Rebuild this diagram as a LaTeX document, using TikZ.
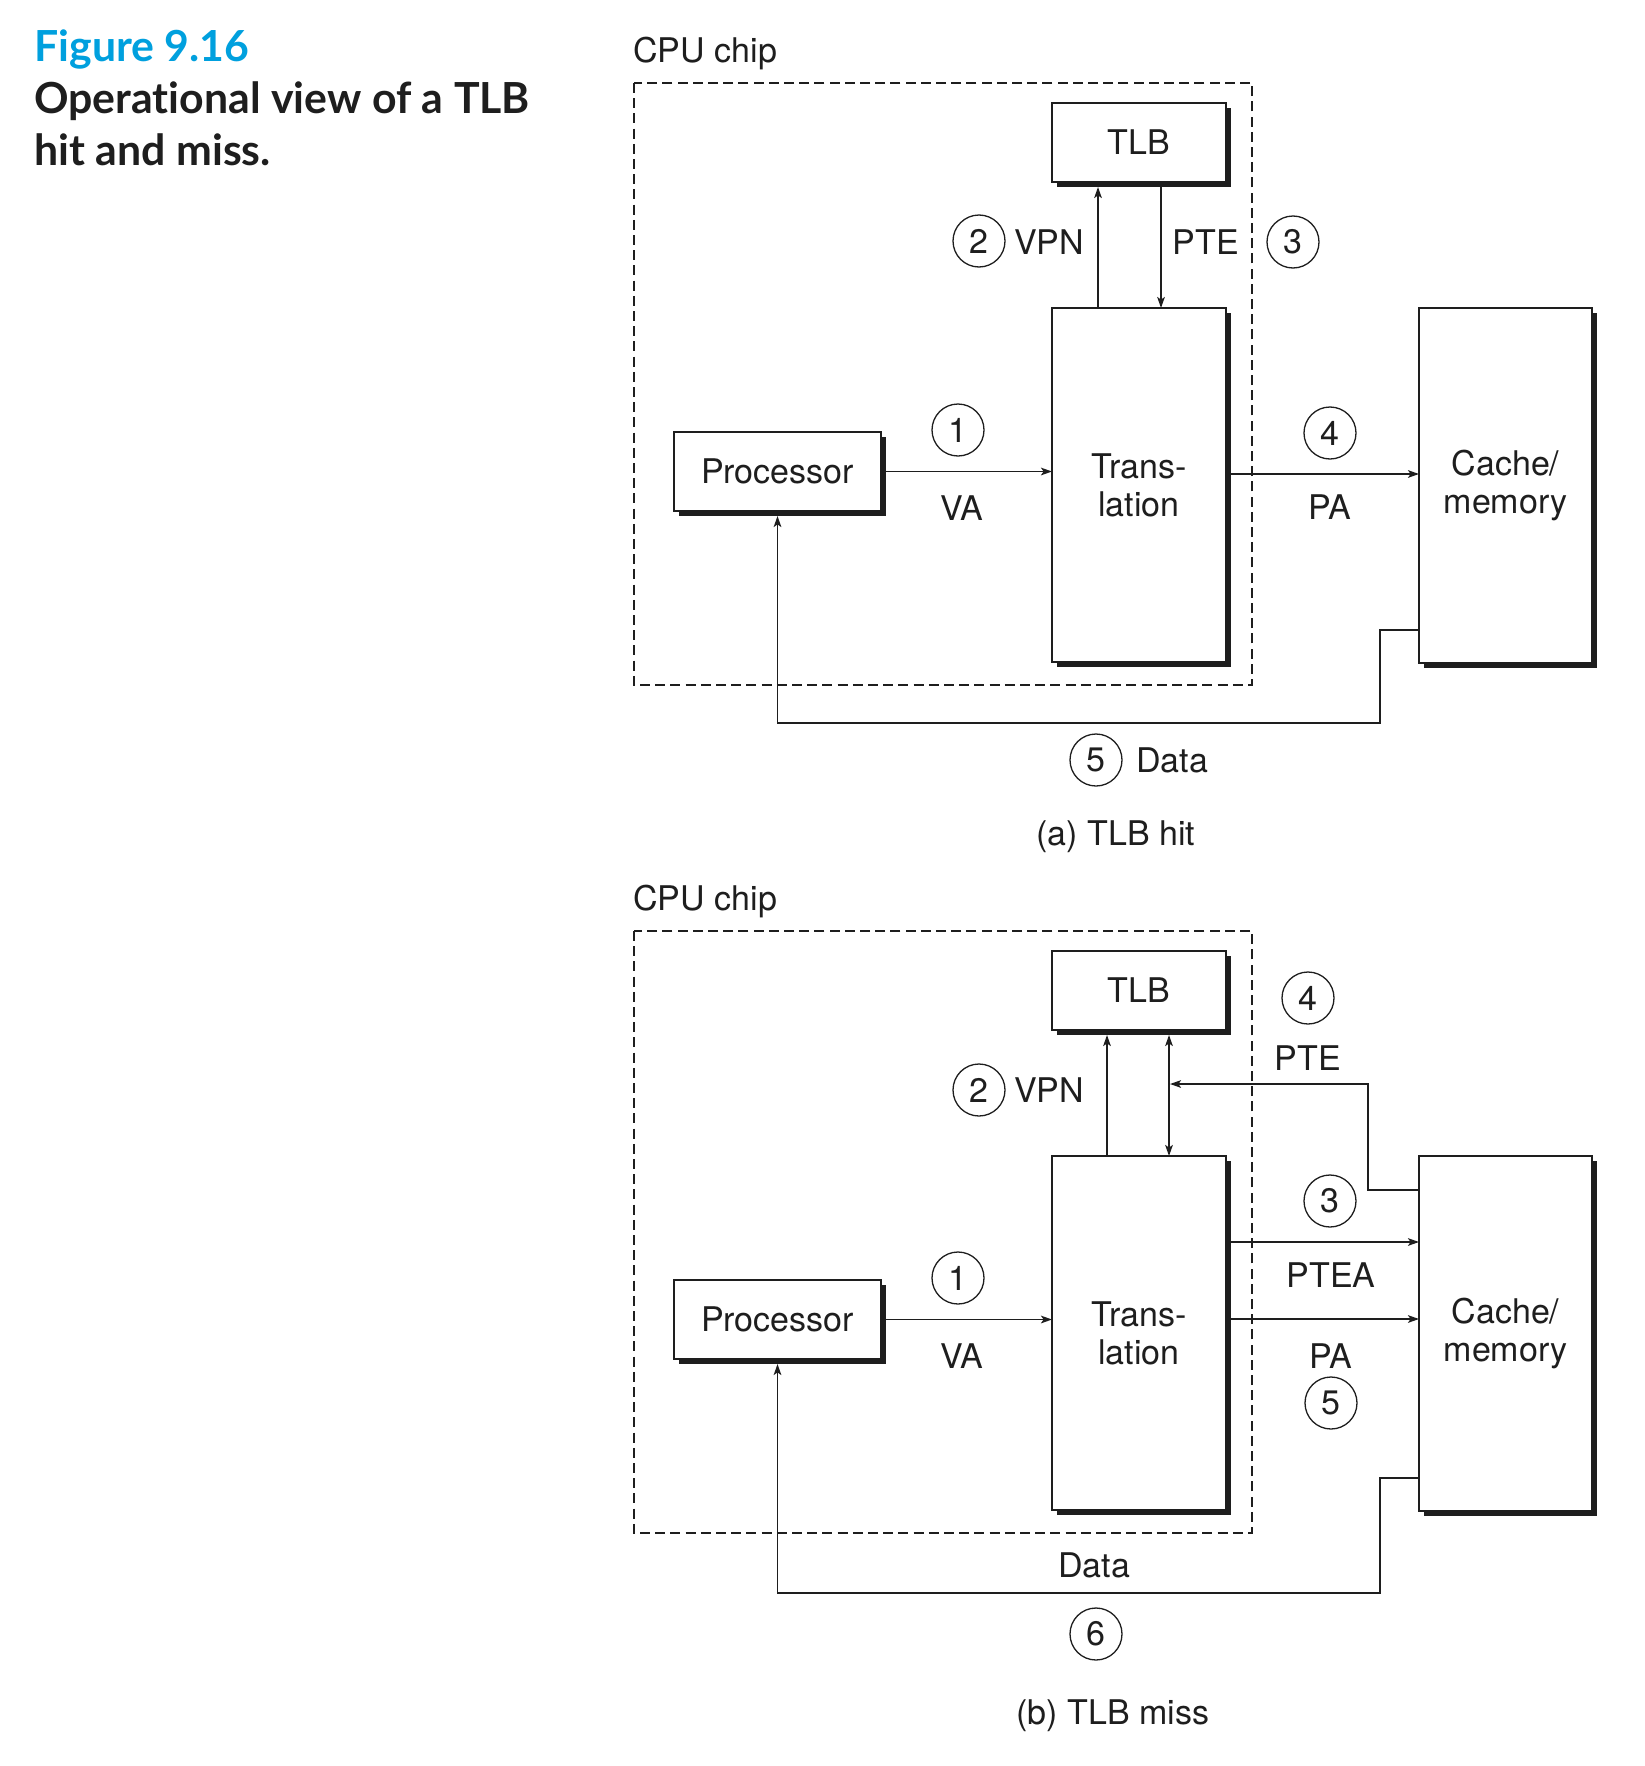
\documentclass[tikz,border=0pt]{standalone}
\usepackage{fontspec}
\setmainfont{TeX Gyre Heros}
\newfontfamily\titlefont[Ligatures={NoCommon,NoDiscretionary,NoContextual}]{Lato}
\usetikzlibrary{shadows,calc,arrows.meta}
\definecolor{figblue}{RGB}{0,160,222}
\definecolor{inkblack}{RGB}{30,30,30}
\newcommand\dfont{\fontsize{17}{19}\selectfont}
\newcommand\tfont{\titlefont\bfseries\fontsize{21.4}{25}\selectfont}

\begin{document}
\begin{tikzpicture}[x=0.5pt,y=-0.5pt,
  box/.style={draw=inkblack, line width=0.7pt, fill=white, inner sep=0pt,
    outer sep=0pt, font=\dfont, align=center, text=inkblack,
    drop shadow={shadow xshift=2.5pt, shadow yshift=-2.5pt, fill=inkblack, opacity=1}},
  chip/.style={draw=inkblack, line width=0.9pt, dash pattern=on 5pt off 2.6pt},
  conn/.style={draw=inkblack, line width=0.9pt,
    -{Stealth[length=5.5pt,width=3.8pt,inset=1.3pt]}},
  twoway/.style={draw=inkblack, line width=0.9pt,
    {Stealth[length=5.5pt,width=3.8pt,inset=1.3pt]}-{Stealth[length=5.5pt,width=3.8pt,inset=1.3pt]}},
  num/.style={circle, draw=inkblack, line width=0.65pt, minimum size=26pt,
    inner sep=0pt, font=\dfont, text=inkblack},
  lbl/.style={inner sep=0pt, font=\dfont, text=inkblack, text height=12.2pt, text depth=0pt},
  ttl/.style={anchor=base west, inner sep=0pt, font=\tfont}]
\useasboundingbox (0,0) rectangle (1644,1766);
\fill[white] (0,0) rectangle (1644,1766);

% figure heading
\node[ttl, text=figblue] (figno) at (34,62) {Figure 9.16};
\node[ttl, text=inkblack] (cap1) at (34,113) {Operational view of a TLB};
\node[ttl, text=inkblack] (cap2) at (34,165) {hit and miss.};

% ---------------- (a) TLB hit ----------------
\node[lbl, anchor=west] (chipA) at (633,50) {CPU chip};
\draw[chip] (634,83) rectangle (1252,685);
\node[box, minimum width=87pt, minimum height=39.5pt] (tlbA) at (1139,142.5) {TLB};
\node[box, minimum width=87pt, minimum height=177pt] (trA) at (1139,485) {Trans-\\lation};
\node[box, minimum width=103.5pt, minimum height=39.5pt] (procA) at (777.5,471.5) {Processor};
\node[box, minimum width=86.5pt, minimum height=177.5pt] (memA) at (1505.5,485.5) {Cache/\\memory};

\draw[conn] (procA.east) -- (procA.east -| trA.west);
\draw[conn] (trA.north -| 1098,0) -- ($(tlbA.south -| 1098,0)+(0,5)$);
\draw[conn] ($(tlbA.south -| 1161,0)+(0,5)$) -- (trA.north -| 1161,0);
\draw[conn] (trA.east |- 0,474) -- (memA.west |- 0,474);
\draw[conn] (memA.west |- 0,630) -| (1380,723) -| ($(procA.south)+(0,5)$);

\node[num] (n2A) at (979,241) {2};
\node[lbl] (vpnA) at (1049,242) {VPN};
\node[lbl] (pteA) at (1206,242) {PTE};
\node[num] (n3A) at (1293,242) {3};
\node[num] (n1A) at (958,430) {1};
\node[lbl] (vaA) at (962,508) {VA};
\node[num] (n4A) at (1330,433) {4};
\node[lbl] (paA) at (1330,507) {PA};
\node[num] (n5A) at (1096,760) {5};
\node[lbl] (dataA) at (1172,760) {Data};
\node[lbl] (subA) at (1116,833) {(a) TLB hit};

% ---------------- (b) TLB miss ----------------
\node[lbl, anchor=west] (chipB) at (633,898) {CPU chip};
\draw[chip] (634,931) rectangle (1252,1533);
\node[box, minimum width=87pt, minimum height=39.5pt] (tlbB) at (1139,990.5) {TLB};
\node[box, minimum width=87pt, minimum height=177pt] (trB) at (1139,1333) {Trans-\\lation};
\node[box, minimum width=103.5pt, minimum height=39.5pt] (procB) at (777.5,1319.5) {Processor};
\node[box, minimum width=86.5pt, minimum height=177.5pt] (memB) at (1505.5,1333.5) {Cache/\\memory};

\draw[conn] (procB.east) -- (procB.east -| trB.west);
\draw[conn] (trB.north -| 1107,0) -- ($(tlbB.south -| 1107,0)+(0,5)$);
\draw[twoway] ($(tlbB.south -| 1169,0)+(0,5)$) -- (trB.north -| 1169,0);
\coordinate (pteJoin) at (1170,1084);
\draw[conn] (memB.west |- 0,1190) -| (1368,1084) -- (pteJoin);
\draw[conn] (trB.east |- 0,1242) -- (memB.west |- 0,1242);
\draw[conn] (trB.east |- 0,1319) -- (memB.west |- 0,1319);
\draw[conn] (memB.west |- 0,1478) -| (1380,1593) -| ($(procB.south)+(0,5)$);

\node[num] (n2B) at (979,1090) {2};
\node[lbl] (vpnB) at (1049,1090) {VPN};
\node[num] (n4B) at (1308,998) {4};
\node[lbl] (pteB) at (1308,1058) {PTE};
\node[num] (n3B) at (1330,1201) {3};
\node[lbl] (pteaB) at (1331,1275) {PTEA};
\node[num] (n1B) at (958,1278) {1};
\node[lbl] (vaB) at (962,1356) {VA};
\node[lbl] (paB) at (1331,1356) {PA};
\node[num] (n5B) at (1331,1403) {5};
\node[lbl] (dataB) at (1094,1565) {Data};
\node[num] (n6B) at (1096,1634) {6};
\node[lbl] (subB) at (1113,1712) {(b) TLB miss};
\end{tikzpicture}
\end{document}
